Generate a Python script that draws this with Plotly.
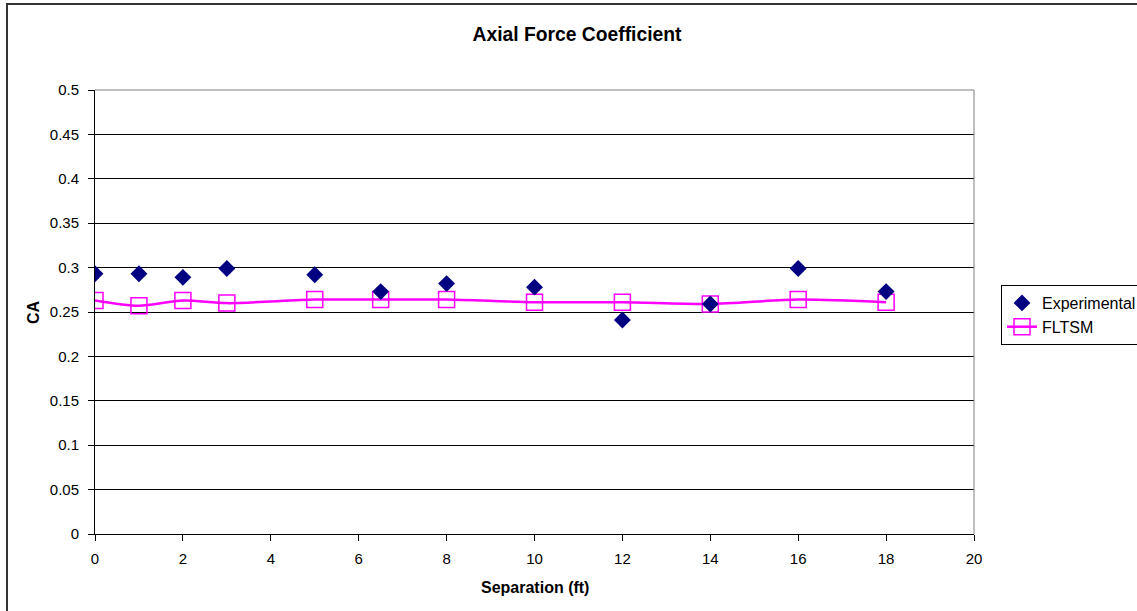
import plotly.graph_objects as go

separation = [0, 1, 2, 3, 5, 6.5, 8, 10, 12, 14, 16, 18]
ca_experimental = [0.293, 0.293, 0.289, 0.299, 0.292, 0.273, 0.282, 0.278, 0.241, 0.259, 0.299, 0.273]
ca_fltsm = [0.263, 0.257, 0.263, 0.260, 0.264, 0.264, 0.264, 0.261, 0.261, 0.259, 0.264, 0.261]

x_ticks = [0, 2, 4, 6, 8, 10, 12, 14, 16, 18, 20]
y_ticks = [0, 0.05, 0.1, 0.15, 0.2, 0.25, 0.3, 0.35, 0.4, 0.45, 0.5]
y_tick_text = ["0", "0.05", "0.1", "0.15", "0.2", "0.25", "0.3", "0.35", "0.4", "0.45", "0.5"]

FONT = "Liberation Sans, Arial, sans-serif"

fig = go.Figure()
fig.add_trace(go.Scatter(
    x=separation, y=ca_fltsm, name="FLTSM", mode="lines+markers",
    line=dict(color="#FF00FF", width=2.5, shape="spline", smoothing=0.8),
    marker=dict(symbol="square-open", size=16, color="#FF00FF", line=dict(width=1.5, color="#FF00FF")),
    legendrank=2,
))
fig.add_trace(go.Scatter(
    x=separation, y=ca_experimental, name="Experimental", mode="markers",
    marker=dict(symbol="diamond", size=13, color="#000080", line=dict(width=0)),
    legendrank=1,
))

W, H = 1137, 611
L, R, T, B = 95, 163, 90, 77
pw, ph = W - L - R, H - T - B

def px_x(p):
    return (p - L) / pw

def px_y(p):
    return (H - B - p) / ph

fig.update_layout(
    width=W, height=H,
    margin=dict(l=L, r=R, t=T, b=B, autoexpand=False),
    paper_bgcolor="white", plot_bgcolor="white",
    font=dict(family=FONT, size=15, color="black"),
    title=dict(text="<b>Axial Force Coefficient</b>", font=dict(family=FONT, size=19.3, color="black"),
               xref="container", yref="container", x=577 / W, xanchor="center",
               y=1 - 34 / H, yanchor="middle"),
    xaxis=dict(range=[0, 20], tickvals=x_ticks, ticktext=[str(v) for v in x_ticks],
               showgrid=False, zeroline=False, showline=True, linecolor="black", linewidth=1,
               ticks="outside", ticklen=6, tickcolor="black", tickwidth=1,
               tickfont=dict(family=FONT, size=15, color="black"), ticklabelstandoff=5),
    yaxis=dict(range=[0, 0.5], tickvals=y_ticks, ticktext=y_tick_text,
               showgrid=True, gridcolor="black", gridwidth=1, zeroline=False,
               showline=True, linecolor="black", linewidth=1,
               ticks="outside", ticklen=6, tickcolor="black", tickwidth=1,
               tickfont=dict(family=FONT, size=15, color="black"), ticklabelstandoff=6),
    legend=dict(x=px_x(1001), xanchor="left", y=px_y(285), yanchor="top",
                bordercolor="black", borderwidth=1, bgcolor="white",
                font=dict(family=FONT, size=16, color="black"), tracegroupgap=0),
    showlegend=True,
)

fig.add_annotation(text="<b>Separation (ft)</b>", xref="paper", yref="paper",
                   x=px_x(535), y=px_y(587), xanchor="center", yanchor="middle",
                   showarrow=False, font=dict(family=FONT, size=16, color="black"))
fig.add_annotation(text="<b>CA</b>", xref="paper", yref="paper",
                   x=px_x(33), y=px_y(312), xanchor="center", yanchor="middle", textangle=-90,
                   showarrow=False, font=dict(family=FONT, size=16, color="black"))

# gray top and right edges of the plot area
fig.add_shape(type="line", xref="paper", yref="paper", x0=0, x1=1, y0=1, y1=1,
              line=dict(color="#808080", width=1), layer="above")
fig.add_shape(type="line", xref="paper", yref="paper", x0=1, x1=1, y0=0, y1=1,
              line=dict(color="#808080", width=1), layer="above")
# outer chart border (extends past the right and bottom edges)
fig.add_shape(type="rect", xref="paper", yref="paper",
              x0=px_x(7), x1=px_x(W + 20), y0=px_y(H + 20), y1=px_y(4),
              line=dict(color="#333333", width=2), fillcolor="rgba(0,0,0,0)", layer="above")

fig.write_html("out.html", config={"displayModeBar": False},
               post_script="document.body.style.margin='0';document.body.style.overflow='hidden';")
